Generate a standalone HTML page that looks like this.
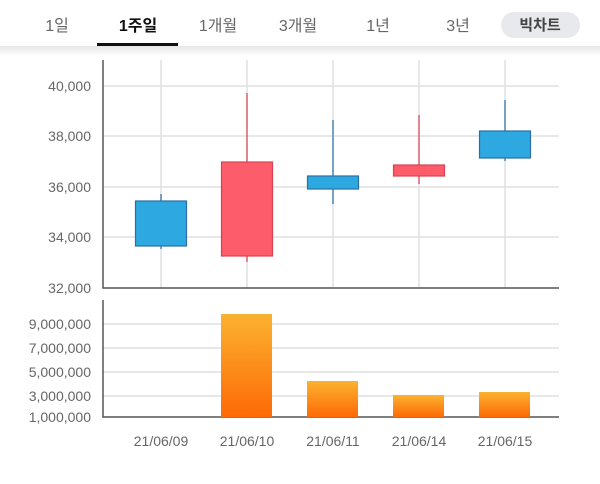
<!DOCTYPE html>
<html><head><meta charset="utf-8"><style>
body{margin:0;width:600px;height:479px;background:#fff;overflow:hidden;font-family:"Liberation Sans","Noto Sans CJK KR",sans-serif}
</style></head><body>
<svg width="600" height="479" xmlns="http://www.w3.org/2000/svg" font-family="Liberation Sans, Noto Sans CJK KR, sans-serif">
<defs>
<linearGradient id="sh" x1="0" y1="0" x2="0" y2="1"><stop offset="0" stop-color="#e6e6e6"/><stop offset="1" stop-color="#fff"/></linearGradient>
<linearGradient id="vg" x1="0" y1="0" x2="0" y2="1"><stop offset="0" stop-color="#fbb230"/><stop offset="1" stop-color="#fd6a06"/></linearGradient>
</defs>
<rect x="0" y="46" width="600" height="10" fill="url(#sh)"/>
<g font-size="16" fill="#666" text-anchor="middle">
<text x="57" y="31">1일</text>
<text x="138" y="31" font-weight="bold" fill="#111">1주일</text>
<text x="218" y="31">1개월</text>
<text x="298" y="31">3개월</text>
<text x="378" y="31">1년</text>
<text x="458" y="31">3년</text>
</g>
<rect x="97" y="43" width="81" height="3" fill="#111"/>
<rect x="501" y="12" width="79" height="26" rx="13" fill="#e8e9ec"/>
<text x="540" y="30" font-size="15" font-weight="bold" fill="#444" text-anchor="middle">빅차트</text>
<g stroke="#e0e0e0" stroke-width="1.5">
<line x1="103" y1="86" x2="559" y2="86"/><line x1="103" y1="136" x2="559" y2="136"/><line x1="103" y1="187" x2="559" y2="187"/><line x1="103" y1="237" x2="559" y2="237"/>
<line x1="161" y1="60" x2="161" y2="288"/><line x1="247" y1="60" x2="247" y2="288"/><line x1="333" y1="60" x2="333" y2="288"/><line x1="419" y1="60" x2="419" y2="288"/><line x1="505" y1="60" x2="505" y2="288"/>
<line x1="103" y1="324" x2="559" y2="324"/><line x1="103" y1="348" x2="559" y2="348"/><line x1="103" y1="372" x2="559" y2="372"/><line x1="103" y1="396" x2="559" y2="396"/>
</g>
<g stroke="#555" stroke-width="1.5" fill="none">
<polyline points="103,60 103,288 559,288"/>
<polyline points="103,300 103,417 559,417"/>
</g>
<g font-size="14" fill="#666" text-anchor="end">
<text x="91" y="91">40,000</text><text x="91" y="141">38,000</text><text x="91" y="192">36,000</text><text x="91" y="242">34,000</text><text x="91" y="293">32,000</text>
<text x="91" y="329">9,000,000</text><text x="91" y="353">7,000,000</text><text x="91" y="377">5,000,000</text><text x="91" y="401">3,000,000</text><text x="91" y="422">1,000,000</text>
</g>
<g font-size="14" fill="#666" text-anchor="middle">
<text x="161" y="446">21/06/09</text><text x="247" y="446">21/06/10</text><text x="333" y="446">21/06/11</text><text x="419" y="446">21/06/14</text><text x="505" y="446">21/06/15</text>
</g>
<g stroke="#2a6fa8" stroke-width="1.2">
<line x1="161" y1="194" x2="161" y2="249"/><rect x="135.5" y="201" width="51" height="45" fill="#2ea8e0"/>
<line x1="333" y1="120" x2="333" y2="204"/><rect x="307.5" y="176" width="51" height="13" fill="#2ea8e0"/>
<line x1="505" y1="100" x2="505" y2="161"/><rect x="479.5" y="131" width="51" height="27" fill="#2ea8e0"/>
</g>
<g stroke="#d94152" stroke-width="1.2">
<line x1="247" y1="93" x2="247" y2="262"/><rect x="221.5" y="162" width="51" height="94" fill="#fd5d6a"/>
<line x1="419" y1="115" x2="419" y2="184"/><rect x="393.5" y="165" width="51" height="11" fill="#fd5d6a"/>
</g>
<g fill="url(#vg)">
<rect x="221" y="314" width="51" height="103"/>
<rect x="307" y="381" width="51" height="36"/>
<rect x="393" y="395" width="51" height="22"/>
<rect x="479" y="392" width="51" height="25"/>
</g>
</svg>
</body></html>
